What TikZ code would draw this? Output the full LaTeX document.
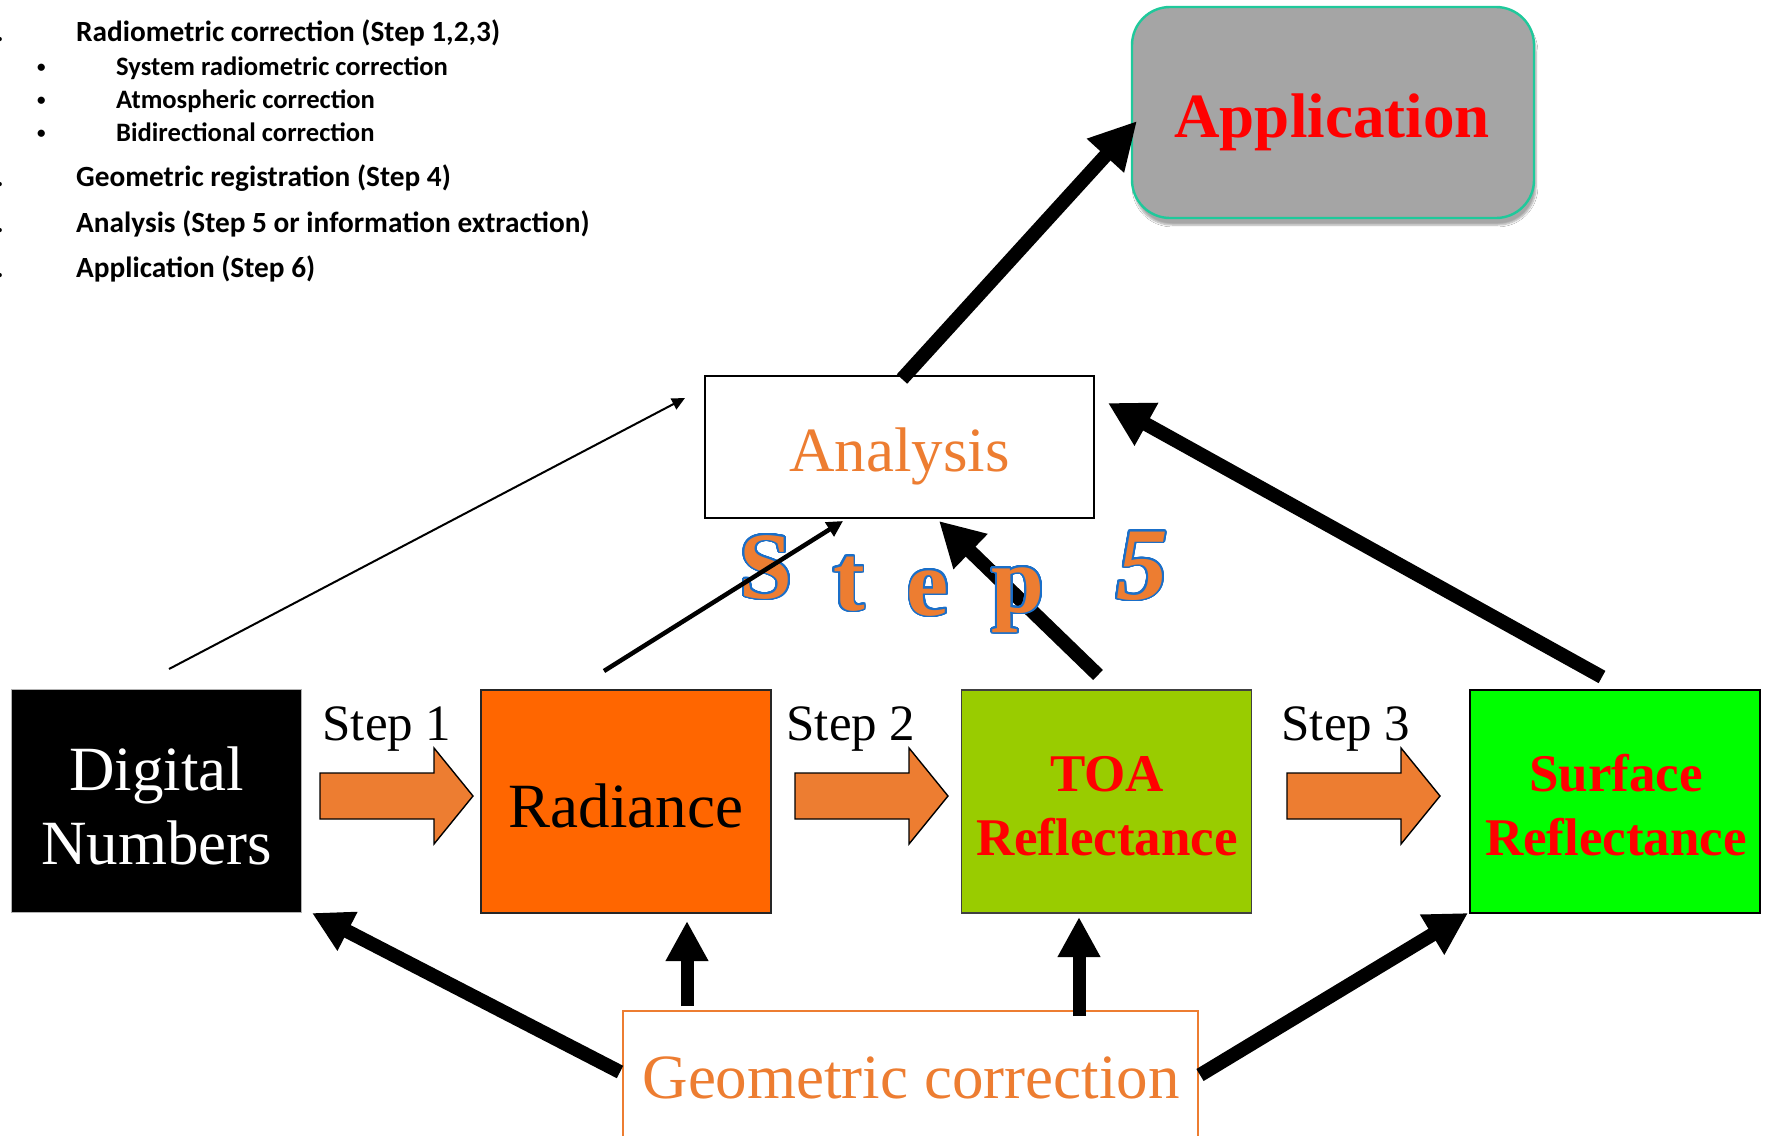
\documentclass[tikz,border=0pt]{standalone}
\usepackage{fontspec}
\setmainfont{Liberation Serif}
\newfontfamily\calibf{Carlito}
\usepackage[copies]{contour}
\contourlength{1.8pt}
\contournumber{32}
\usetikzlibrary{arrows.meta,shadows.blur}
\definecolor{rador}{HTML}{FF6600}
\definecolor{toag}{HTML}{99CC00}
\definecolor{surfg}{HTML}{00FF00}
\definecolor{offor}{HTML}{ED7D31}
\definecolor{appgray}{HTML}{A5A5A5}
\definecolor{appedge}{HTML}{1FC99B}
\definecolor{wordblue}{HTML}{1A6FC9}
\tikzset{
  box/.style={draw, line width=1.6pt, minimum width=290pt, minimum height=223pt, inner sep=0pt},
  big/.style={anchor=base, inner sep=0pt, font=\fontsize{63}{70}\selectfont},
  bigb/.style={anchor=base, inner sep=0pt, font=\fontsize{53}{60}\selectfont\bfseries, text=red},
  steplbl/.style={anchor=base, inner sep=0pt, font=\fontsize{51}{60}\selectfont},
  mainitem/.style={anchor=base west, inner sep=0pt, font=\fontsize{29.3}{34}\selectfont\calibf\bfseries},
  subitem/.style={anchor=base west, inner sep=0pt, font=\fontsize{26.6}{32}\selectfont\calibf\bfseries},
  bulletitem/.style={anchor=base west, inner sep=0pt, font=\fontsize{17}{20}\selectfont\calibf\bfseries},
  sfive/.style={anchor=base, inner sep=0pt, font=\fontsize{95}{95}\selectfont\bfseries, text=offor},
  blockarr/.style={draw=black, line width=1.4pt, fill=offor, line join=miter},
  thickarr/.style={line width=14pt, -{Triangle[length=44pt,width=46pt]}},
  vertarr/.style={line width=13pt, -{Triangle[length=40pt,width=40pt]}},
  medarr/.style={line width=4.5pt, -{Triangle[length=16pt,width=16pt]}},
  thinarr/.style={line width=2pt, -{Triangle[length=13pt,width=12pt]}}
}
\begin{document}
\begin{tikzpicture}[x=1pt,y=-1pt]
\clip (0,0) rectangle (1769,1135);
\fill[white] (0,0) rectangle (1769,1135);

% ---- top-left text
\node[mainitem] (l1) at (76,41) {Radiometric correction (Step 1,2,3)};
\node[bulletitem] (b1) at (37,72) {•};
\node[subitem] (l2) at (116,75) {System radiometric correction};
\node[bulletitem] (b2) at (37,105) {•};
\node[subitem] (l3) at (116,108) {Atmospheric correction};
\node[bulletitem] (b3) at (37,138) {•};
\node[subitem] (l4) at (116,141) {Bidirectional correction};
\node[mainitem] (l5) at (76,186) {Geometric registration (Step 4)};
\node[mainitem] (l6) at (76,232) {Analysis (Step 5 or information extraction)};
\node[mainitem] (l7) at (76,277) {Application (Step 6)};
\node[mainitem, anchor=base east] (d1) at (4,41) {.};
\node[mainitem, anchor=base east] (d5) at (4,186) {.};
\node[mainitem, anchor=base east] (d6) at (4,232) {.};
\node[mainitem, anchor=base east] (d7) at (4,277) {.};

% ---- boxes
\node[box, fill=black, draw=gray!60] (dn) at (156.5,801) {};
\node[box, fill=rador, draw=black!85] (rad) at (626,801.5) {};
\node[box, fill=toag, draw=black!75] (toa) at (1106.5,801.5) {};
\node[box, fill=surfg, draw=black] (surf) at (1615,801.5) {};
\node[draw, line width=2.4pt, minimum width=389pt, minimum height=142pt, inner sep=0pt] (ana) at (899.5,447) {};
\node[draw=appedge, fill=appgray, line width=2.4pt, rounded corners=38pt, minimum width=402pt, minimum height=211pt, inner sep=0pt,
      blur shadow={shadow xshift=2pt, shadow yshift=-7pt, shadow blur steps=6, shadow opacity=35}] (app) at (1333,112.5) {};
\node[draw=offor, line width=2pt, minimum width=575pt, minimum height=131pt, inner sep=0pt] (geo) at (910.5,1076.5) {};

% ---- box texts
\node[big, text=white] (dnt1) at (156.5,790) {Digital};
\node[big, text=white] (dnt2) at (156.5,864) {Numbers};
\node[big] (radt) at (626,827) {Radiance};
\node[bigb] (toat1) at (1107,791) {TOA};
\node[bigb] (toat2) at (1107,855) {Reflectance};
\node[bigb] (surft1) at (1616,791) {Surface};
\node[bigb] (surft2) at (1616,855) {Reflectance};
\node[big, text=offor] (anat) at (899.5,471) {Analysis};
\node[big, font=\fontsize{63}{70}\selectfont\bfseries, text=red] (appt) at (1332,137) {Application};
\node[big, text=offor] (geot) at (911,1098) {Geometric correction};

% ---- step labels and block arrows
\node[steplbl] (st1) at (387,740) {Step 1};
\node[steplbl] (st2) at (851,740) {Step 2};
\node[steplbl] (st3) at (1346,740) {Step 3};
\coordinate (ba1) at (320,796);
\coordinate (ba2) at (795,796);
\coordinate (ba3) at (1287,796);
\foreach \c in {ba1,ba2,ba3}{
  \draw[blockarr] (\c) ++(0,-23) -- ++(114,0) -- ++(0,-25) -- ++(39,48) -- ++(-39,48) -- ++(0,-25) -- ++(-114,0) -- cycle;
}

% ---- connector end points
\coordinate (thS) at (169,669);  \coordinate (thE) at (685,398);
\coordinate (raS) at (604,671);  \coordinate (raE) at (843,521);
\coordinate (toS) at (1098,675); \coordinate (toE) at (939,521);
\coordinate (suS) at (1602,677); \coordinate (suE) at (1108,403);
\coordinate (anS) at (902,379);  \coordinate (anE) at (1137,121);
\coordinate (g1S) at (620,1072); \coordinate (g1E) at (312,913);
\coordinate (g2S) at (687,1006); \coordinate (g2E) at (687,921);
\coordinate (g3S) at (1079,1016);\coordinate (g3E) at (1079,917);
\coordinate (g4S) at (1200,1075);\coordinate (g4E) at (1468,913);

\draw[thickarr] (toS) -- (toE);

% ---- Step 5 word art
\node[sfive] (s5a) at (766,598) {\contour{wordblue}{S}};
\node[sfive] (s5b) at (849,610) {\contour{wordblue}{t}};
\node[sfive] (s5c) at (928,615) {\contour{wordblue}{e}};
\node[sfive] (s5d) at (1018,612) {\contour{wordblue}{p}};
\node[sfive, font=\fontsize{103}{103}\selectfont\bfseries\itshape] (s5e) at (1142,599) {\contour{wordblue}{5}};

% ---- connectors
\draw[thinarr] (thS) -- (thE);
\draw[medarr] (raS) -- (raE);
\draw[thickarr] (suS) -- (suE);
\draw[thickarr, -{Triangle[length=47pt,width=47pt]}] (anS) -- (anE);
\draw[thickarr, -{Triangle[length=40pt,width=41pt]}] (g1S) -- (g1E);
\draw[vertarr] (g2S) -- (g2E);
\draw[vertarr] (g3S) -- (g3E);
\draw[thickarr, -{Triangle[length=42pt,width=44pt]}] (g4S) -- (g4E);
\end{tikzpicture}
\end{document}
